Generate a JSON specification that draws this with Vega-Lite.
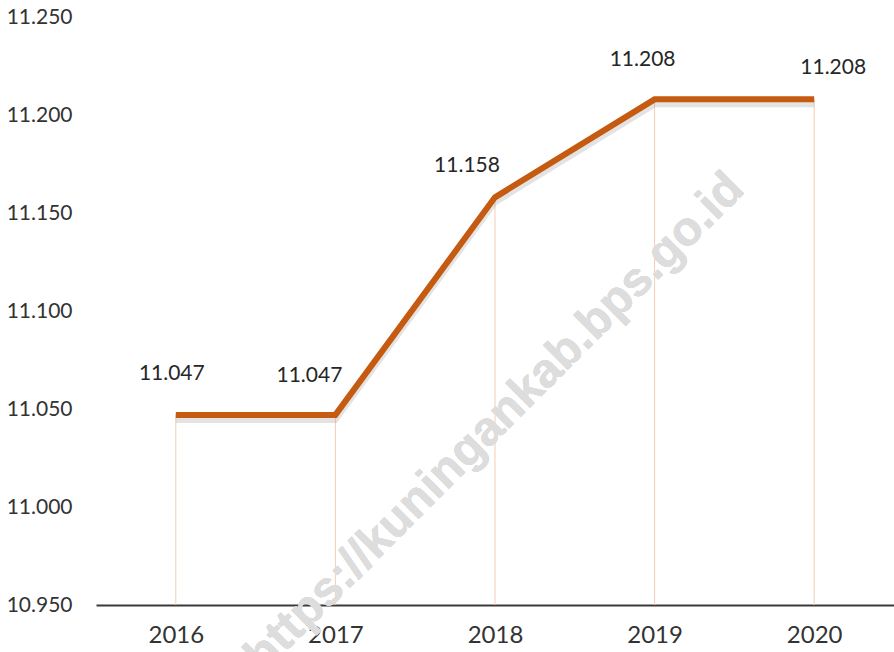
{
  "$schema": "https://vega.github.io/schema/vega-lite/v6.json",
  "width": 798,
  "height": 588,
  "autosize": {"type": "none"},
  "padding": {"left": 96, "top": 17, "right": 0, "bottom": 47},
  "background": "white",
  "config": {
    "view": {"stroke": null},
    "font": "Lato",
    "text": {"font": "Lato"}
  },
  "data": {
    "values": [
      {"year": "2016", "value": 11.047},
      {"year": "2017", "value": 11.047},
      {"year": "2018", "value": 11.158},
      {"year": "2019", "value": 11.208},
      {"year": "2020", "value": 11.208}
    ]
  },
  "encoding": {
    "x": {
      "field": "year",
      "type": "ordinal",
      "scale": {"type": "point", "padding": 0.5},
      "axis": {
        "title": null,
        "labelAngle": 0,
        "labelFont": "Lato",
        "labelFontSize": 24,
        "labelColor": "#333333",
        "labelPadding": 18,
        "ticks": false,
        "domainColor": "#3a3a3a",
        "domainWidth": 2,
        "grid": false
      }
    },
    "y": {
      "field": "value",
      "type": "quantitative",
      "scale": {"domain": [10.95, 11.25], "nice": false, "zero": false},
      "axis": {
        "title": null,
        "values": [10.95, 11.0, 11.05, 11.1, 11.15, 11.2, 11.25],
        "format": ".3f",
        "labelFont": "Lato",
        "labelFontSize": 21,
        "labelColor": "#333333",
        "labelPadding": 24,
        "ticks": false,
        "domain": false,
        "grid": false
      }
    }
  },
  "layer": [
    {
      "mark": {"type": "rule", "color": "#F5CDB0", "strokeWidth": 1},
      "encoding": {"y2": {"datum": 10.95}}
    },
    {
      "mark": {
        "type": "text",
        "text": "https://kuningankab.bps.go.id",
        "font": "Liberation Sans",
        "fontWeight": "bold",
        "fontSize": 48,
        "angle": -45,
        "align": "center",
        "baseline": "middle",
        "color": "#dddddd"
      },
      "encoding": {
        "x": {"datum": "2018"},
        "y": {"datum": 11.043}
      }
    },
    {
      "mark": {"type": "line", "color": "#9a9a9a", "opacity": 0.28, "strokeWidth": 6, "yOffset": 5},
      "encoding": {}
    },
    {
      "mark": {"type": "line", "color": "#C55A11", "strokeWidth": 6},
      "encoding": {}
    },
    {
      "transform": [{"filter": "datum.year == '2016'"}],
      "mark": {"type": "text", "fontSize": 21, "color": "#262626", "dx": -4, "dy": -41},
      "encoding": {"text": {"field": "value", "type": "quantitative", "format": ".3f"}}
    },
    {
      "transform": [{"filter": "datum.year == '2017'"}],
      "mark": {"type": "text", "fontSize": 21, "color": "#262626", "dx": -26, "dy": -39},
      "encoding": {"text": {"field": "value", "type": "quantitative", "format": ".3f"}}
    },
    {
      "transform": [{"filter": "datum.year == '2018'"}],
      "mark": {"type": "text", "fontSize": 21, "color": "#262626", "dx": -28, "dy": -31},
      "encoding": {"text": {"field": "value", "type": "quantitative", "format": ".3f"}}
    },
    {
      "transform": [{"filter": "datum.year == '2019'"}],
      "mark": {"type": "text", "fontSize": 21, "color": "#262626", "dx": -12, "dy": -39},
      "encoding": {"text": {"field": "value", "type": "quantitative", "format": ".3f"}}
    },
    {
      "transform": [{"filter": "datum.year == '2020'"}],
      "mark": {"type": "text", "fontSize": 21, "color": "#262626", "dx": 19, "dy": -31},
      "encoding": {"text": {"field": "value", "type": "quantitative", "format": ".3f"}}
    }
  ]
}
